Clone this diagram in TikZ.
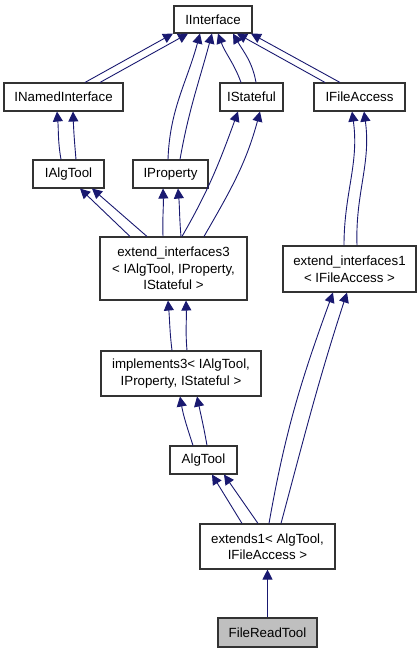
\documentclass[tikz,border=0pt]{standalone}
\usepackage{fontspec}
\setmainfont{Liberation Sans}
\usetikzlibrary{arrows.meta}
\definecolor{edgeblue}{RGB}{25,25,112}
\definecolor{leafgray}{RGB}{191,191,191}

\begin{document}
\begin{tikzpicture}[x=1pt, y=1pt,
	cls/.style={draw=black!80, line width=1.1pt, fill=white, inner sep=0pt, align=center, font=\fontsize{13.3}{16.5}\selectfont},
	leaf/.style={cls, fill=leafgray},
	inherit/.style={draw=edgeblue, line width=0.9pt, -{Triangle[length=10pt,width=10pt]}}]
	\useasboundingbox (0,0) rectangle (420,-653);

	% Classi
	\node[cls, minimum width=78, minimum height=27] (iint) at (213,-19.5) {IInterface};
	\node[cls, minimum width=119, minimum height=28] (inamed) at (63.5,-97) {INamedInterface};
	\node[cls, minimum width=63, minimum height=28] (istate) at (251.5,-97) {IStateful};
	\node[cls, minimum width=91, minimum height=28] (ifile) at (359.5,-97) {IFileAccess};
	\node[cls, minimum width=71, minimum height=28] (ialg) at (68.5,-174) {IAlgTool};
	\node[cls, minimum width=75, minimum height=28] (iprop) at (170.5,-174) {IProperty};
	\node[cls, minimum width=147, minimum height=63] (ext3) at (173.5,-268.5) {extend\_interfaces3\\< IAlgTool, IProperty,\\IStateful >};
	\node[cls, minimum width=133, minimum height=46] (ext1) at (349.5,-269) {extend\_interfaces1\\< IFileAccess >};
	\node[cls, minimum width=160, minimum height=45] (impl3) at (181,-373.5) {implements3< IAlgTool,\\IProperty, IStateful >};
	\node[cls, minimum width=67, minimum height=28] (algtool) at (203.5,-460) {AlgTool};
	\node[cls, minimum width=135, minimum height=45] (extends1) at (267.5,-546.5) {extends1< AlgTool,\\IFileAccess >};
	\node[leaf, minimum width=99, minimum height=29] (frt) at (267.5,-632.5) {FileReadTool};

	% Ereditarieta verso IInterface
	\draw[inherit] ([xshift=21.5]inamed.north) -- ([xshift=-40]iint.south);
	\draw[inherit] ([xshift=36.5]inamed.north) -- ([xshift=-25]iint.south);
	\draw[inherit] ([xshift=-2.5]iprop.north) to[out=88, in=-105] ([xshift=-13]iint.south);
	\draw[inherit] ([xshift=9.5]iprop.north) to[out=80, in=-105] ([xshift=-1]iint.south);
	\draw[inherit] ([xshift=-10.5]istate.north) to[out=110, in=-70] ([xshift=5]iint.south);
	\draw[inherit] ([xshift=4.5]istate.north) to[out=100, in=-60] ([xshift=20]iint.south);
	\draw[inherit] ([xshift=-34.5]ifile.north) -- ([xshift=24]iint.south);
	\draw[inherit] ([xshift=-19.5]ifile.north) -- ([xshift=38]iint.south);

	% Interfacce intermedie
	\draw[inherit] ([xshift=-7.5]ialg.north) to[out=100, in=-85] ([xshift=-6.5]inamed.south);
	\draw[inherit] ([xshift=7.5]ialg.north) to[out=95, in=-88] ([xshift=9.5]inamed.south);
	\draw[inherit] ([xshift=-43.5]ext3.north) -- ([xshift=11.5]ialg.south);
	\draw[inherit] ([xshift=-26.5]ext3.north) -- ([xshift=23.5]ialg.south);
	\draw[inherit] ([xshift=-10.5]ext3.north) to[out=92, in=-88] ([xshift=-7.5]iprop.south);
	\draw[inherit] ([xshift=7.5]ext3.north) to[out=95, in=-85] ([xshift=7.5]iprop.south);
	\draw[inherit] ([xshift=8.5]ext3.north) to[out=60, in=-110] ([xshift=-13.5]istate.south);
	\draw[inherit] ([xshift=30.5]ext3.north) to[out=60, in=-105] ([xshift=8.5]istate.south);
	\draw[inherit] ([xshift=-5.5]ext1.north) to[out=90, in=-82] ([xshift=-7.5]ifile.south);
	\draw[inherit] ([xshift=7.5]ext1.north) to[out=92, in=-82] ([xshift=4.5]ifile.south);

	% Implementazioni
	\draw[inherit] ([xshift=-9]impl3.north) to[out=97, in=-85] ([xshift=-5.5]ext3.south);
	\draw[inherit] ([xshift=6]impl3.north) to[out=95, in=-88] ([xshift=12.5]ext3.south);
	\draw[inherit] ([xshift=-10.5]algtool.north) to[out=108, in=-80] ([xshift=-1]impl3.south);
	\draw[inherit] ([xshift=3.5]algtool.north) to[out=100, in=-78] ([xshift=16]impl3.south);
	\draw[inherit] ([xshift=-25.5]extends1.north) -- ([xshift=8.5]algtool.south);
	\draw[inherit] ([xshift=-9.5]extends1.north) -- ([xshift=20.5]algtool.south);
	\draw[inherit] ([xshift=1.5]extends1.north) to[out=80, in=-110] ([xshift=-16.5]ext1.south);
	\draw[inherit] ([xshift=13.5]extends1.north) to[out=75, in=-108] ([xshift=-2.5]ext1.south);
	\draw[inherit] (frt.north) -- (extends1.south);
\end{tikzpicture}
\end{document}
